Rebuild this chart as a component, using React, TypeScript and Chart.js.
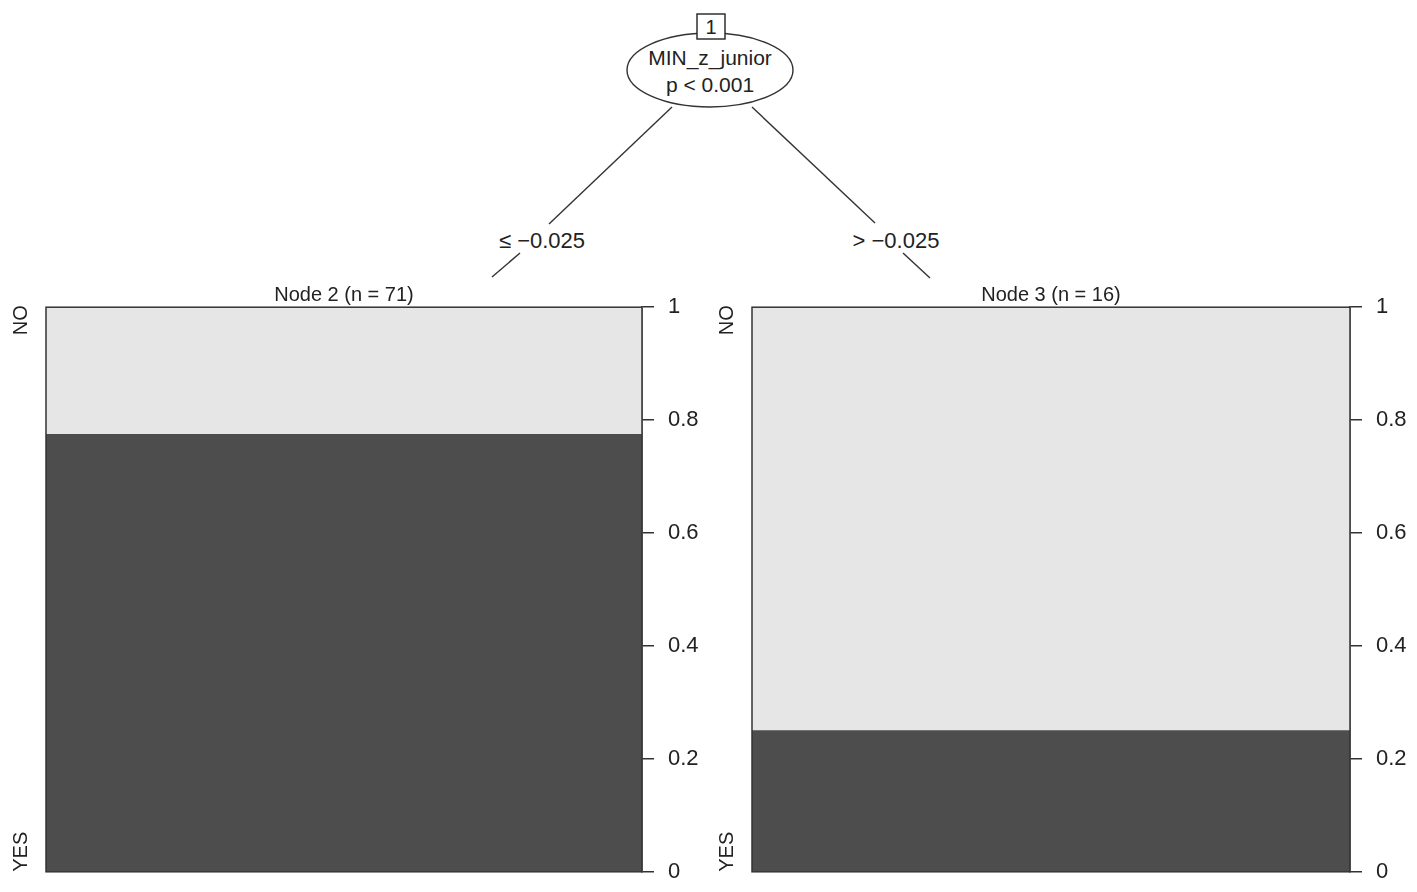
import React, { useEffect, useRef } from "react";
import { Chart, registerables } from "chart.js";

Chart.register(...registerables);

// ---- data ----
const nodeTitles = ["Node 2 (n = 71)", "Node 3 (n = 16)"];
const yesShare = [0.775, 0.25];
const noShare = [0.225, 0.75];
const classLabels = ["YES", "NO"];
const yTickValues = [0, 0.2, 0.4, 0.6, 0.8, 1];
const splitVariable = "MIN_z_junior";
const splitP = "p < 0.001";
const edgeLabels = ["\u2264 \u22120.025", "> \u22120.025"];

const FONT = "'Liberation Sans', Arial, sans-serif";
const TEXT = "#222";
const DARK = "#4d4d4d";
const LIGHT = "#e6e6e6";
const CANVAS_H = 619;

const panelPlugin = {
  id: "panelDecor",
  afterDraw(chart: any) {
    const { ctx, chartArea } = chart;
    const opts = chart.options.plugins.panelDecor;
    const { left, right, top, bottom } = chartArea;
    ctx.save();
    // frame
    ctx.strokeStyle = "#333";
    ctx.lineWidth = 1.5;
    ctx.strokeRect(left, top, right - left, bottom - top);
    // title
    ctx.fillStyle = TEXT;
    ctx.font = `20px ${FONT}`;
    ctx.textAlign = "center";
    ctx.textBaseline = "middle";
    ctx.fillText(opts.title, (left + right) / 2, top - 12);
    // class labels (rotated)
    ctx.font = `20px ${FONT}`;
    ctx.translate(left - 25, 0);
    ctx.rotate(-Math.PI / 2);
    ctx.textBaseline = "middle";
    ctx.textAlign = "right";
    ctx.fillText(classLabels[1], -top + 2, 0);
    ctx.textAlign = "left";
    ctx.fillText(classLabels[0], -bottom, 0);
    ctx.restore();
  },
};

function Panel({ idx, left, width, axisWidth }: { idx: number; left: number; width: number; axisWidth: number }) {
  const ref = useRef<HTMLCanvasElement | null>(null);
  useEffect(() => {
    if (!ref.current) return;
    const chart = new Chart(ref.current, {
      type: "bar",
      data: {
        labels: [nodeTitles[idx]],
        datasets: [
          { label: classLabels[0], data: [yesShare[idx]], backgroundColor: DARK, borderWidth: 0, barPercentage: 1, categoryPercentage: 1 },
          { label: classLabels[1], data: [noShare[idx]], backgroundColor: LIGHT, borderWidth: 0, barPercentage: 1, categoryPercentage: 1 },
        ],
      },
      options: {
        animation: false,
        responsive: false,
        devicePixelRatio: 1,
        layout: { padding: { left: 46, top: 27, bottom: 14, right: 0 } },
        plugins: {
          legend: { display: false },
          tooltip: { enabled: false },
          panelDecor: { title: nodeTitles[idx] },
        } as any,
        scales: {
          x: { display: false, stacked: true },
          y: {
            position: "right",
            stacked: true,
            min: 0,
            max: 1,
            afterFit: (s: any) => {
              s.width = axisWidth;
            },
            afterBuildTicks: (s: any) => {
              s.ticks = yTickValues.map((v) => ({ value: v }));
            },
            ticks: {
              font: { family: FONT, size: 22 },
              color: TEXT,
              padding: 14,
              callback: (v: any) => String(Math.round(Number(v) * 10) / 10),
            },
            grid: { drawOnChartArea: false, drawTicks: true, tickLength: 12, color: "#333", lineWidth: 1.5 },
            border: { display: true, color: "#333", width: 1.5 },
          },
        },
      },
      plugins: [panelPlugin],
    });
    return () => chart.destroy();
  }, []);
  return (
    <canvas
      ref={ref}
      width={width}
      height={CANVAS_H}
      style={{ position: "absolute", left, top: 280, width, height: CANVAS_H }}
    />
  );
}

export default function App() {
  return (
    <div style={{ position: "absolute", left: 0, top: 0, width: 1417, height: 892, background: "#fff", overflow: "hidden" }}>
      <Panel idx={0} left={0} width={712} axisWidth={70} />
      <Panel idx={1} left={706} width={711} axisWidth={67} />
      <svg
        width={1417}
        height={280}
        style={{ position: "absolute", left: 0, top: 0 }}
        fontFamily={FONT}
      >
        <g stroke="#333" strokeWidth={1.4}>
          <line x1={672} y1={107} x2={549} y2={224} />
          <line x1={520} y1={253} x2={492} y2={277} />
          <line x1={752} y1={107} x2={875} y2={223} />
          <line x1={903} y1={253} x2={930} y2={278} />
        </g>
        <ellipse cx={710} cy={70} rx={83} ry={37} fill="#fff" stroke="#333" strokeWidth={1.4} />
        <rect x={697} y={14} width={28} height={25} fill="#fff" stroke="#222" strokeWidth={1.4} />
        <g fill={TEXT} textAnchor="middle" dominantBaseline="central">
          <text x={711} y={27} fontSize={20}>1</text>
          <text x={710} y={57} fontSize={21}>{splitVariable}</text>
          <text x={710} y={84} fontSize={21}>{splitP}</text>
          <text x={542} y={240} fontSize={22}>{edgeLabels[0]}</text>
          <text x={896} y={240} fontSize={22}>{edgeLabels[1]}</text>
        </g>
      </svg>
    </div>
  );
}
